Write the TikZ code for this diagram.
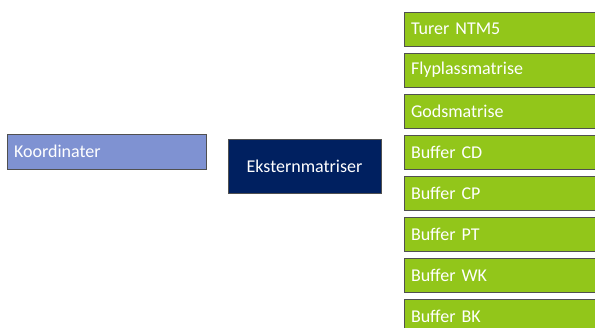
\documentclass[tikz,border=0pt]{standalone}
\usepackage{fontspec}
\setmainfont{Carlito}
\usepackage{tikz}
\usetikzlibrary{positioning}

\definecolor{lightblue}{RGB}{127,146,210}
\definecolor{navy}{RGB}{0,32,96}
\definecolor{lime}{RGB}{146,198,26}
\definecolor{frame}{RGB}{80,80,80}

\begin{document}
\begin{tikzpicture}[x=1pt,y=1pt]
                \tikzstyle{every node}+=[inner sep=0pt, outer sep=0pt, font=\fontsize{18}{20}\selectfont, text=white]
                \tikzstyle{box}=[draw=frame, line width=0.9pt, anchor=north west, align=left]
                \clip (0,0) rectangle (595,-327);
                % coordinates box
                \node [box, fill=lightblue, minimum width=199pt, minimum height=35pt, text width=185pt, inner xsep=7pt] (koord) at (7,-134) {Koordinater};
                % external matrices box
                \node [box, fill=navy, minimum width=153pt, minimum height=54pt, align=center, text width=153pt] (ekstern) at (228,-139) {Eksternmatriser};
                % the matrices on the right
                \foreach \name [count=\i from 0] in {Turer NTM5, Flyplassmatrise, Godsmatrise, Buffer CD, Buffer CP, Buffer PT, Buffer WK, Buffer BK}
                  \node [box, fill=lime, minimum width=210pt, minimum height=34pt, text width=196pt, inner xsep=7pt] (mat\i) at (404,-12-41*\i) {\name};
              \end{tikzpicture}
\end{document}
